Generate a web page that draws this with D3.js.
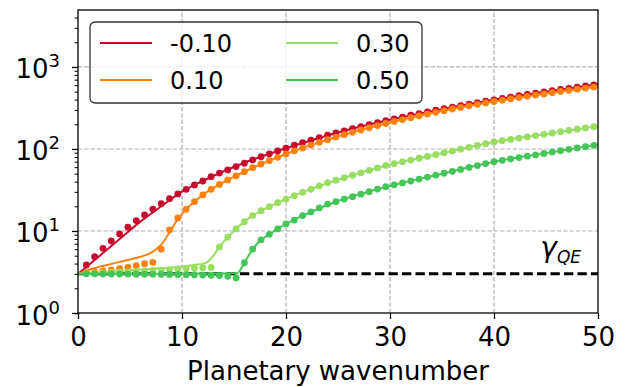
<!DOCTYPE html>
<html>
<head>
<meta charset="utf-8" />
<title>Growth rate vs planetary wavenumber</title>
<script type="text/javascript" src="https://d3js.org/d3.v7.min.js"></script>
<style type="text/css">
    body { margin: 0; background: #fff; }
    text { font-family: "DejaVu Sans", sans-serif; fill: #000; }
</style>
</head>
<body>
<svg width="626" height="387"></svg>
<script>
    var w = 626;
    var h = 387;
    var margin = { left: 78, right: 28, top: 10, bottom: 74 };

    var labels = ["-0.10", "0.10", "0.30", "0.50"];
    var colors = ["#c70a2d", "#ff800a", "#99de62", "#44c557"];
    var gammaQE = 3;

    var xTicks = [0, 10, 20, 30, 40, 50];
    var yTicks = [1, 10, 100, 1000];

    // wavenumbers of the markers
    var dotX = [0.8, 1.6, 2.4, 3.2, 4, 4.8, 5.6, 6.4, 7.2, 8, 8.8, 9.6, 10.4, 11.2, 12, 12.8,
        13.6, 14.4, 15.2, 16, 16.8, 17.6, 18.4, 19.2, 20, 20.8, 21.6, 22.4, 23.2, 24, 24.8,
        25.6, 26.4, 27.2, 28, 28.8, 29.6, 30.4, 31.2, 32, 32.8, 33.6, 34.4, 35.2, 36, 36.8,
        37.6, 38.4, 39.2, 40, 40.8, 41.6, 42.4, 43.2, 44, 44.8, 45.6, 46.4, 47.2, 48, 48.8, 49.6];

    var redDots = [3.85, 4.86, 6.15, 7.55, 9.2, 11.1, 13.4, 15.7, 18.4, 21.5, 24.8, 28.3, 32.2,
        36.4, 40.7, 46, 50.8, 55.6, 61, 67, 73.5, 80.5, 87.3, 94.5, 102,
        111, 119.7, 128.5, 137.6, 147, 156.7, 166.7, 177, 187.6, 198.5, 209.7, 221, 233, 245,
        257.6, 270, 283, 296.5, 310, 324, 338, 353, 367.5, 382.6, 398, 413.6, 429.6, 446, 462,
        479, 496, 514, 531.6, 549.5, 568, 586.5, 605];
    var orangeDots = [3.1, 3.18, 3.25, 3.34, 3.47, 3.6, 3.78, 3.99, 4.15, 6.0, 10.3, 14.4, 18.4,
        22.8, 27.5, 32.2, 37, 41.9, 46.9, 52.8, 59.2, 65.6, 72, 79.2, 86.9, 94.9,
        103, 111.7, 120.5, 129.8, 139.5, 149.4, 159.7, 170.3, 181.4, 192.9, 204.4, 216.5, 228.6,
        241.1, 253.5, 266.6, 279.9, 293.3, 307.2, 321.1, 335.7, 349.9, 364.6, 379.3, 393.7, 408.5,
        423.7, 438.4, 454.1, 469.7, 486.2, 502.4, 518.7, 535.6, 552.5, 569.3];
    var lightGreenDots = [3.02, 3.05, 3.08, 3.12, 3.15, 3.18, 3.22, 3.26, 3.3, 3.34, 3.38, 3.42,
        3.46, 3.51, 3.56, 3.6, 6.4, 8.4, 10.6, 13, 15.4, 17.7, 19.8, 22.1, 24.5, 26.9, 29.6, 32.2,
        35.4, 38.8, 41.6, 44.6, 47.8, 51.2, 54.8, 58.7, 63, 66.2, 69.7, 73.3, 77.1, 81.1, 85.3,
        89.9, 94.6, 99.5, 104.7, 110.2, 115.9, 122, 126.3, 130.9, 135.7, 140.6, 145.7, 151, 156.5,
        162.2, 168.1, 174.2, 180.5, 187.1];
    var greenDots = [3.0, 3.0, 2.99, 2.99, 2.98, 2.98, 2.97, 2.97, 2.96, 2.96, 2.95, 2.94, 2.93,
        2.92, 2.9, 2.88, 2.86, 2.8, 2.68, 4.1, 6.0, 7.8, 9.1, 10.6, 12.2, 13.6, 15.4, 17.1, 19.1,
        21.3, 22.8, 24.5, 26.2, 28.1, 30.1, 32.4, 34.7, 36.6, 38.6, 40.7, 43.0, 45.4, 48.0, 50.6,
        53.4, 56.4, 59.6, 62.8, 66.4, 70, 72.8, 75.5, 78.5, 81.7, 84.7, 88.1, 91.6, 95.1, 98.9,
        102.8, 106.7, 110.9];

    // solid curves (own knots)
    var redLineX = [0, 2, 4, 6, 8, 10, 12, 14, 16, 18, 20, 25, 30, 35, 40, 45, 50];
    var redLineY = [3, 4.9, 8.0, 13.0, 20.0, 30.2, 40.7, 53.5, 68, 84, 102, 159, 227, 306, 398, 500, 614];
    var orangeLineX = [0, 1, 2, 3, 4, 5, 6, 7, 7.6, 8.2, 8.8, 9.6, 10.4, 12, 14, 16, 18, 20, 25, 30, 35, 40, 45, 50];
    var orangeLineY = [3, 3.35, 3.65, 3.9, 4.2, 4.5, 4.85, 5.4, 6.1, 7.3, 9.6, 14.0, 18.4, 27.5, 39.4, 52.8, 68.8, 86.9, 142, 210, 290, 379, 474, 578];
    var lightGreenLineX = [0, 2, 4, 6, 8, 10, 11.5, 12.4, 12.9, 13.6, 14.4, 15.2, 16, 17, 18, 20, 22, 25, 30, 35, 40, 45, 50];
    var lightGreenLineY = [3, 3.12, 3.25, 3.38, 3.52, 3.7, 3.9, 4.15, 4.8, 6.4, 8.4, 10.6, 13, 15.9, 18.7, 24.5, 31, 42.3, 64.6, 88.7, 122, 152.3, 190];
    var greenLineX = [0, 5, 10, 15.3, 16, 16.8, 17.6, 18.4, 19.2, 20, 22, 25, 30, 35, 40, 45, 50];
    var greenLineY = [3, 3.01, 3.02, 3.05, 4.1, 6.0, 7.8, 9.1, 10.6, 12.2, 16.2, 23.2, 35.4, 50, 70, 89, 113];

    var series = [
        { lx: redLineX, ly: redLineY, dy: redDots },
        { lx: orangeLineX, ly: orangeLineY, dy: orangeDots },
        { lx: lightGreenLineX, ly: lightGreenLineY, dy: lightGreenDots },
        { lx: greenLineX, ly: greenLineY, dy: greenDots }
    ];

    var svg = d3.select("svg").attr("width", w).attr("height", h);

    var x = d3.scaleLinear().domain([0, 50]).range([margin.left, w - margin.right]);
    var y = d3.scaleLog().domain([1, 4950]).range([h - margin.bottom, margin.top]);

    // grid
    var grid = svg.append("g");
    grid.selectAll("line.gx").data(xTicks.slice(1, -1)).enter().append("line")
        .attr("x1", d => x(d)).attr("x2", d => x(d))
        .attr("y1", y.range()[0]).attr("y2", y.range()[1])
        .attr("stroke", "#b0b0b0").attr("stroke-width", 1.2).attr("stroke-dasharray", "4.4,1.9");
    grid.selectAll("line.gy").data(yTicks.slice(1)).enter().append("line")
        .attr("x1", x.range()[0]).attr("x2", x.range()[1])
        .attr("y1", d => y(d)).attr("y2", d => y(d))
        .attr("stroke", "#b0b0b0").attr("stroke-width", 1.2).attr("stroke-dasharray", "4.4,1.9");

    // gamma_QE reference
    svg.append("line")
        .attr("x1", x(0)).attr("x2", x(50))
        .attr("y1", y(gammaQE)).attr("y2", y(gammaQE))
        .attr("stroke", "#000").attr("stroke-width", 3).attr("stroke-dasharray", "9.3,4.2");

    var line = d3.line()
        .x(d => x(d[0]))
        .y(d => y(d[1]))
        .curve(d3.curveMonotoneX);

    series.forEach(function(s, i) {
        var pts = s.lx.map((v, j) => [v, s.ly[j]]);
        svg.append("path")
            .attr("d", line(pts))
            .attr("fill", "none")
            .attr("stroke", colors[i])
            .attr("stroke-width", 2);
        svg.append("g").selectAll("circle")
            .data(s.dy)
            .enter().append("circle")
            .attr("cx", (d, j) => x(dotX[j]))
            .attr("cy", d => y(d))
            .attr("r", 3.4)
            .attr("fill", colors[i]);
    });

    // gamma label
    var gl = svg.append("text")
        .attr("x", 581).attr("y", 257)
        .attr("text-anchor", "end")
        .style("font-style", "italic");
    gl.append("tspan").attr("font-size", 28).text("γ");
    gl.append("tspan").attr("font-size", 17).attr("dy", 6).text("QE");

    // axes
    var xAxis = d3.axisBottom(x).tickValues(xTicks).tickSize(6).tickPadding(7);
    var gx = svg.append("g")
        .attr("transform", "translate(0," + y.range()[0] + ")")
        .call(xAxis);
    gx.select(".domain").remove();
    gx.selectAll(".tick line").attr("stroke", "#000").attr("stroke-width", 1.3);
    gx.selectAll(".tick text").attr("font-size", 26).attr("font-family", "DejaVu Sans").attr("dy", "0.75em");

    var minor = [];
    [1, 10, 100, 1000].forEach(function(p) {
        for (var m = 2; m <= 9; m++) { if (p * m <= 4950) minor.push(p * m); }
    });
    var yMinor = d3.axisLeft(y).tickValues(minor).tickSize(3.5).tickFormat("");
    var gym = svg.append("g").attr("transform", "translate(" + x.range()[0] + ",0)").call(yMinor);
    gym.select(".domain").remove();
    gym.selectAll(".tick line").attr("stroke", "#000").attr("stroke-width", 1);

    var yAxis = d3.axisLeft(y).tickValues(yTicks).tickSize(6).tickFormat("");
    var gy = svg.append("g").attr("transform", "translate(" + x.range()[0] + ",0)").call(yAxis);
    gy.select(".domain").remove();
    gy.selectAll(".tick line").attr("stroke", "#000").attr("stroke-width", 1.3);

    // 10^n labels
    gy.selectAll(".tick").each(function(d) {
        var t = d3.select(this).append("text")
            .attr("x", -18).attr("y", 11)
            .attr("text-anchor", "end");
        t.append("tspan").attr("font-size", 26).text("10");
        t.append("tspan").attr("font-size", 18).attr("dy", -11).text(Math.round(Math.log10(d)));
    });

    // frame
    svg.append("rect")
        .attr("x", x.range()[0]).attr("y", y.range()[1])
        .attr("width", x.range()[1] - x.range()[0])
        .attr("height", y.range()[0] - y.range()[1])
        .attr("fill", "none").attr("stroke", "#000").attr("stroke-width", 1.3);

    svg.append("text")
        .attr("x", (x.range()[0] + x.range()[1]) / 2).attr("y", 380)
        .attr("text-anchor", "middle")
        .attr("font-size", 26)
        .text("Planetary wavenumber");

    // legend
    var lg = svg.append("g");
    lg.append("rect")
        .attr("x", 90).attr("y", 22).attr("width", 332).attr("height", 81)
        .attr("rx", 5).attr("ry", 5)
        .attr("fill", "#fff").attr("fill-opacity", 0.8)
        .attr("stroke", "#333").attr("stroke-width", 1.3);
    labels.forEach(function(lab, i) {
        var cx = i < 2 ? 100 : 286;
        var cy = i % 2 === 0 ? 43 : 80;
        lg.append("line")
            .attr("x1", cx).attr("x2", cx + 52)
            .attr("y1", cy).attr("y2", cy)
            .attr("stroke", colors[i]).attr("stroke-width", 2);
        lg.append("text")
            .attr("x", cx + 70).attr("y", cy + 9)
            .attr("font-size", 24)
            .text(lab);
    });
</script>
</body>
</html>
